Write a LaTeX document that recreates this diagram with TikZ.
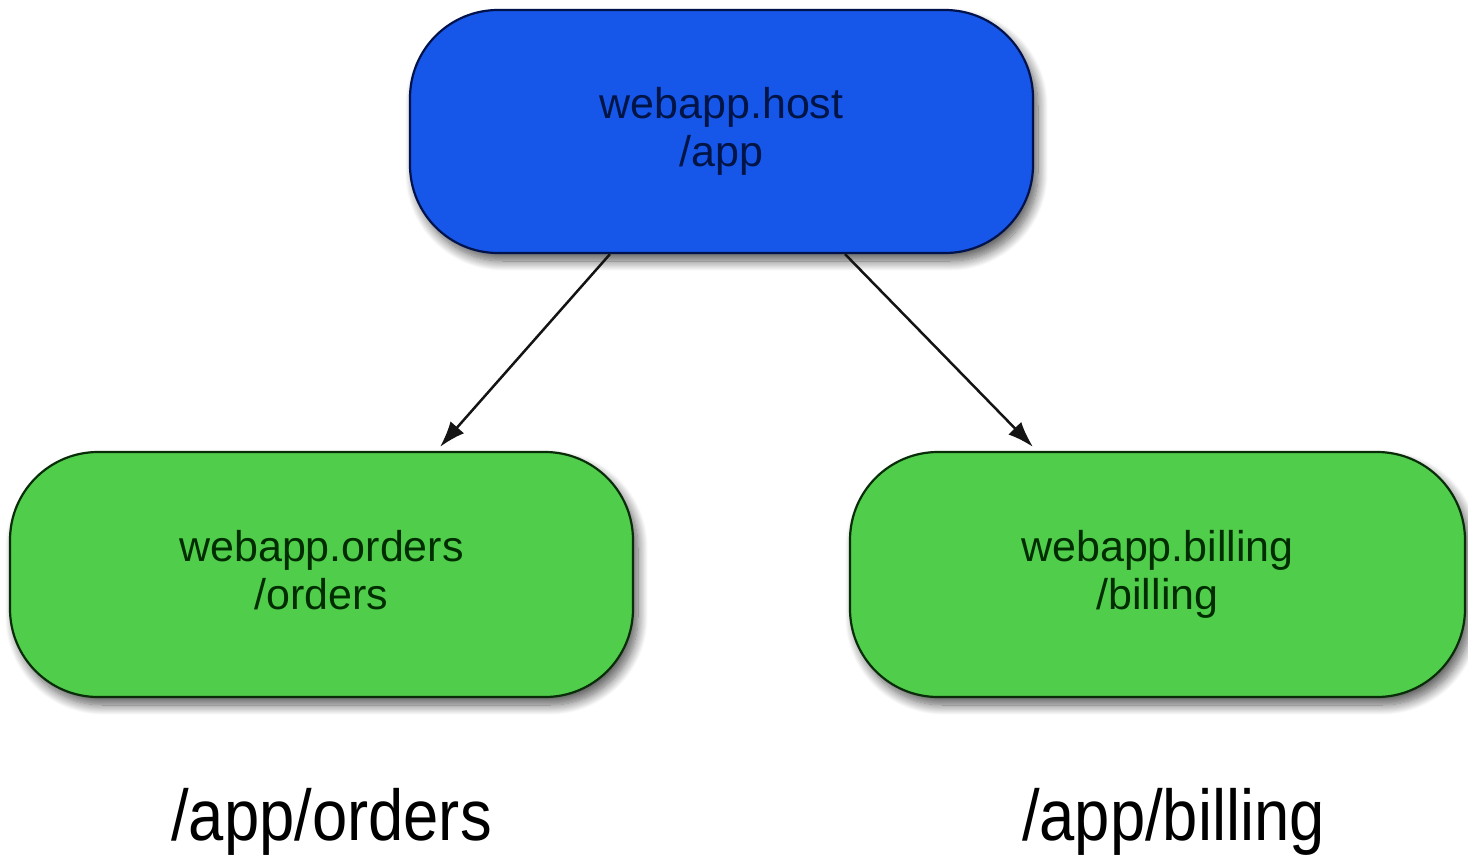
\documentclass[tikz,border=0pt]{standalone}
\usepackage{fontspec}
\setmainfont{Liberation Sans}
\newfontfamily\bigfont[FakeStretch=0.88]{Liberation Sans}
\usetikzlibrary{arrows.meta,shadows.blur}
\definecolor{hostfill}{RGB}{22,87,234}
\definecolor{hostdraw}{RGB}{0,18,75}
\definecolor{hosttext}{RGB}{0,20,70}
\definecolor{appfill}{RGB}{80,205,74}
\definecolor{appdraw}{RGB}{8,45,8}
\definecolor{apptext}{RGB}{0,45,0}
\newcommand{\topstrut}{\rule{0pt}{31pt}}
\newcommand{\botstrut}{\rule[-10pt]{0pt}{10pt}}
\begin{document}
\begin{tikzpicture}[x=1pt,y=-1pt,
  pill/.style={rectangle, rounded corners=88pt, line width=2.2pt, align=center,
    inner sep=0pt, font=\fontsize{43}{48}\selectfont,
    blur shadow={shadow xshift=5pt, shadow yshift=-8pt, shadow blur radius=10pt,
      shadow blur steps=12, shadow opacity=65}},
  hostpill/.style={pill, fill=hostfill, draw=hostdraw, text=hosttext},
  apppill/.style={pill, fill=appfill, draw=appdraw, text=apptext},
  link/.style={line width=2.5pt, draw={rgb,255:red,20;green,20;blue,20},
    -{Latex[length=26pt,width=18pt]}},
  caption/.style={font=\bigfont\fontsize{72}{80}\selectfont, anchor=base, inner sep=0pt}]
\useasboundingbox (0,0) rectangle (1468,855);
\node[hostpill, minimum width=623pt, minimum height=243pt] (host) at (721.5,131.5) {\topstrut webapp.host\\/app\botstrut};
\node[apppill, minimum width=623pt, minimum height=245pt] (orders) at (321.5,574.5) {\topstrut webapp.orders\\/orders\botstrut};
\node[apppill, minimum width=615pt, minimum height=245pt] (billing) at (1157.5,574.5) {\topstrut webapp.billing\\/billing\botstrut};
\draw[link] ([xshift=-111.5pt]host.south) -- ([xshift=118.5pt,yshift=4pt]orders.north);
\draw[link] ([xshift=123.5pt]host.south) -- ([xshift=-124.5pt,yshift=4pt]billing.north);
\node[caption] (capo) at (331.5,840) {/app/orders};
\node[caption] (capb) at (1173.5,840) {/app/billing};
\end{tikzpicture}
\end{document}
